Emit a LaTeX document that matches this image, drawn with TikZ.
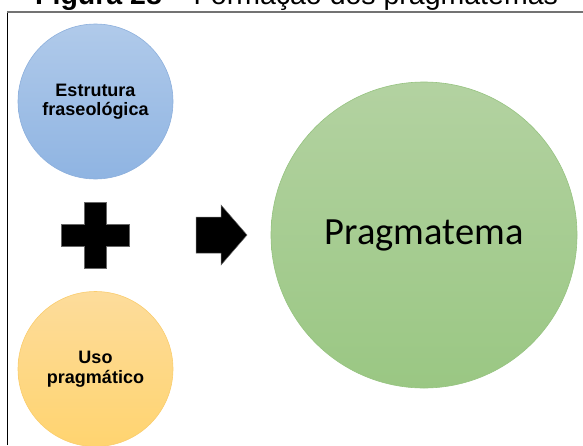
\documentclass[tikz,border=0pt]{standalone}
\usepackage{fontspec}
\setmainfont{Liberation Sans}
\newfontfamily\calibrifont{Carlito}
\definecolor{bluetop}{RGB}{176,202,234}
\definecolor{bluebot}{RGB}{143,180,226}
\definecolor{blueline}{RGB}{140,175,220}
\definecolor{yeltop}{RGB}{253,220,155}
\definecolor{yelbot}{RGB}{255,212,112}
\definecolor{yelline}{RGB}{250,205,110}
\definecolor{grntop}{RGB}{179,210,161}
\definecolor{grnbot}{RGB}{154,199,131}
\definecolor{grnline}{RGB}{150,195,128}
\begin{document}
\begin{tikzpicture}[x=1pt,y=-1pt,
  bubble/.style={circle, inner sep=0pt, align=center, text=black,
    font=\fontsize{18}{19.5}\selectfont\bfseries, line width=0.6pt},
  symbol/.style={fill=black, draw=black!60, line width=0.5pt}
]
\useasboundingbox (0,0) rectangle (583,445);
\begin{scope}
\clip (0,0) rectangle (583,445);
\node[anchor=base west, inner sep=0pt, font=\fontsize{28.5}{30}\selectfont] (title) at (35,4)
  {\textbf{Figura 28} – Formação dos pragmatemas};
% frame
\coordinate (fbl) at (7,445);
\coordinate (ftl) at (7,12);
\coordinate (ftr) at (583,12);
\draw[black, line width=1pt] (fbl) -- (ftl);
\draw[black!55, line width=1.2pt] (ftl) -- (ftr);
% circles
\node[bubble, minimum size=155pt, top color=bluetop, bottom color=bluebot, draw=blueline]
  (est) at (95.5,101.5) {Estrutura\\fraseológica};
\node[bubble, minimum size=155pt, top color=yeltop, bottom color=yelbot, draw=yelline]
  (uso) at (95.5,369) {Uso\\pragmático};
\node[bubble, minimum size=306pt, top color=grntop, bottom color=grnbot, draw=grnline,
  font=\calibrifont\fontsize{38.5}{40}\selectfont] (prag) at (424,235) {Pragmatema};
% plus
\coordinate (plus) at (95,235);
\fill[symbol] ([shift={(-11,-33)}]plus) rectangle ([shift={(11,33)}]plus);
\fill[symbol] ([shift={(-34,-11)}]plus) rectangle ([shift={(34,11)}]plus);
\fill[black] ([shift={(-10.5,-32.5)}]plus) rectangle ([shift={(10.5,32.5)}]plus);
% arrow
\coordinate (arr) at (221,235);
\fill[symbol] ([shift={(-25,-18)}]arr) -- ([shift={(0,-18)}]arr) -- ([shift={(0,-30)}]arr)
  -- ([shift={(26,0)}]arr) -- ([shift={(0,30)}]arr) -- ([shift={(0,18)}]arr)
  -- ([shift={(-25,18)}]arr) -- cycle;
\end{scope}
\end{tikzpicture}
\end{document}
